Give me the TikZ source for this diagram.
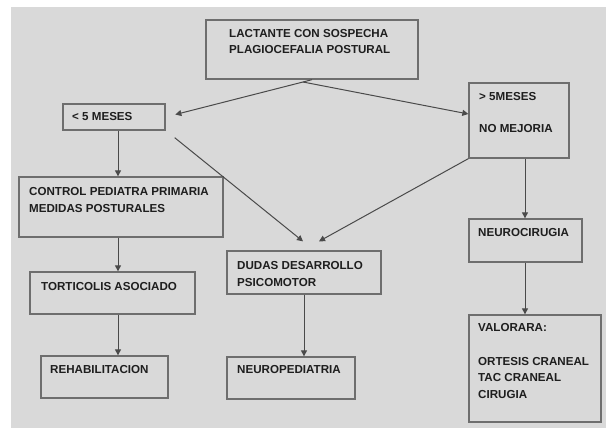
\documentclass[tikz,border=0pt]{standalone}
\usepackage{fontspec}
\setmainfont{Liberation Sans}
\usetikzlibrary{arrows.meta,calc}
\definecolor{bg}{HTML}{D9D9D9}
\definecolor{edge}{HTML}{6E6E6E}
\definecolor{ink}{HTML}{1E1E1E}
\definecolor{wire}{HTML}{4A4A4A}
\tikzset{
  box/.style={draw=edge, line width=1.3pt, fill=bg, inner sep=0pt},
  lbl/.style={anchor=west, inner sep=0pt, text=ink, font=\fontsize{11.6}{16.5}\selectfont\bfseries, align=left},
  arr/.style={draw=wire, line width=1pt, -{Triangle[length=6pt,width=6pt]}},
}
\begin{document}
\begin{tikzpicture}[x=1pt,y=-1pt]
\useasboundingbox (0,0) rectangle (606,428);
\fill[white] (0,0) rectangle (606,428);
\fill[bg] (11,7) rectangle (606,428);
% boxes (pixel coordinates)
\node[box, minimum width=212pt, minimum height=59pt] (top) at (312,49.5) {};
\node[box, minimum width=102pt, minimum height=26pt] (lt) at (114,117) {};
\node[box, minimum width=100pt, minimum height=75pt] (gt) at (519,120.5) {};
\node[box, minimum width=204pt, minimum height=60pt] (ctrl) at (121,207) {};
\node[box, minimum width=165pt, minimum height=42pt] (tor) at (112.5,293) {};
\node[box, minimum width=127pt, minimum height=42pt] (reh) at (104.5,377) {};
\node[box, minimum width=154pt, minimum height=43pt] (du) at (304,272.5) {};
\node[box, minimum width=128pt, minimum height=42pt] (np) at (291,378) {};
\node[box, minimum width=113pt, minimum height=43pt] (nc) at (525.5,240.5) {};
\node[box, minimum width=132pt, minimum height=107pt] (val) at (535,368.5) {};
% labels
\node[lbl, anchor=north west] (ttop) at (229,29) {LACTANTE CON SOSPECHA\\PLAGIOCEFALIA POSTURAL};
\node[lbl] (tlt) at (72,117) {< 5 MESES};
\node[lbl] (tgt1) at (479,97) {> 5MESES};
\node[lbl] (tgt2) at (479,129) {NO MEJORIA};
\node[lbl, anchor=north west] (tctrl) at (29,187.5) {CONTROL PEDIATRA PRIMARIA\\MEDIDAS POSTURALES};
\node[lbl] (ttor) at (41,287) {TORTICOLIS ASOCIADO};
\node[lbl] (treh) at (50,370) {REHABILITACION};
\node[lbl, anchor=north west] (tdu) at (237,261.5) {DUDAS DESARROLLO\\PSICOMOTOR};
\node[lbl] (tnp) at (237,370) {NEUROPEDIATRIA};
\node[lbl] (tnc) at (478,233) {NEUROCIRUGIA};
\node[lbl] (tval1) at (478,328) {VALORARA:};
\node[lbl, anchor=north west] (tval2) at (478,357) {ORTESIS CRANEAL\\TAC CRANEAL\\CIRUGIA};
% helper coordinates
\coordinate (fork) at (303,82);
\coordinate (xa) at (118,0);
\coordinate (xr) at (525,0);
% connectors
\draw[draw=wire, line width=1pt] (top.south) -- (fork);
\draw[arr, shorten >=10pt] (fork) -- (lt.east);
\draw[arr] (fork) -- ([yshift=6.5pt]gt.west);
\draw[arr] ([shift={(9,7)}]lt.south east) -- ([shift={(-1,-9)}]du.north);
\draw[arr] (gt.south west) -- ([shift={(15,-9)}]du.north);
\draw[arr] (lt.south -| xa) -- (ctrl.north -| xa);
\draw[arr] (ctrl.south -| xa) -- (tor.north -| xa);
\draw[arr] (tor.south -| xa) -- (reh.north -| xa);
\draw[arr] (du.south) -- (du.south |- np.north);
\draw[arr] (gt.south -| xr) -- (nc.north -| xr);
\draw[arr] (nc.south -| xr) -- (val.north -| xr);
\end{tikzpicture}
\end{document}
